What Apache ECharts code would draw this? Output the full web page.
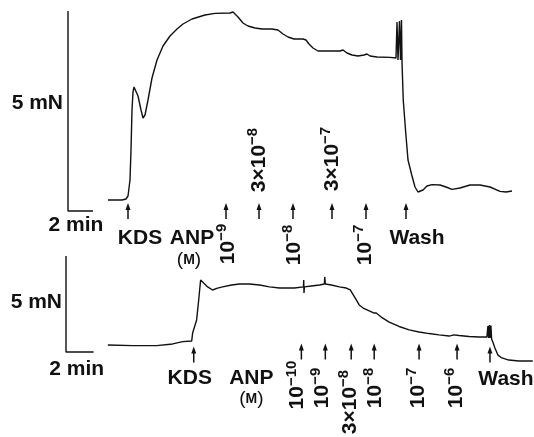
<!DOCTYPE html>
<html><head><meta charset="utf-8">
<script src="https://cdn.jsdelivr.net/npm/echarts@6/dist/echarts.min.js"></script>
<style>html,body{margin:0;padding:0;background:#fff}#c{width:534px;height:437px}</style>
</head><body><div id="c"></div>
<script>
// ---- Data (time in min, force in mN) ----
const topTime = [3.2,4.32,4.64,4.8,4.96,5.04,5.12,5.2,5.28,5.44,5.6,5.84,6.0,6.16,6.4,6.72,7.12,7.6,8.16,8.72,9.2,9.92,10.96,11.76,12.96,13.2,13.28,13.36,13.6,14.0,14.4,14.96,15.52,16.32,16.8,17.2,17.6,18.08,18.8,19.04,19.28,19.6,20.0,20.96,21.76,22.0,22.32,22.72,23.2,23.68,23.92,24.16,24.72,25.76,26.24,26.32,26.4,26.52,26.6,26.68,26.72,26.82,27.02,27.2,27.5,27.76,28.0,28.16,28.4,28.72,29.12,29.76,30.24,30.72,31.36,32.16,32.96,33.76,34.56,35.04,35.52];
const topForce = [0.275,0.275,0.3,0.375,0.775,1.525,2.525,2.975,3.1,3.075,2.875,2.525,2.325,2.4,2.775,3.325,3.775,4.125,4.375,4.55,4.675,4.8,4.9,4.94,4.95,4.975,5.025,4.95,4.85,4.7,4.625,4.575,4.55,4.55,4.525,4.425,4.35,4.3,4.3,4.275,4.175,4.075,4.0,4.0,4.0,4.025,3.95,3.9,3.875,3.9,3.925,3.875,3.85,3.84,3.825,4.725,3.775,4.75,3.775,4.775,3.725,2.775,1.95,1.275,0.9,0.6,0.475,0.45,0.525,0.625,0.66,0.65,0.6,0.54,0.575,0.65,0.65,0.6,0.49,0.475,0.5];
const botTime = [3.04,4.86,6.59,7.75,8.48,9.13,9.2,9.49,9.64,9.78,10.0,10.29,10.65,11.01,11.38,12.03,12.61,13.33,14.06,14.78,15.51,16.59,17.25,17.27,17.29,17.32,17.83,18.41,18.77,18.8,18.84,19.28,19.86,20.36,20.65,20.87,21.09,21.3,21.59,22.03,22.39,22.54,22.9,23.48,24.2,24.93,25.65,26.38,27.1,27.83,28.19,28.55,29.28,30.0,30.58,30.65,30.7,30.76,30.81,30.87,30.92,31.01,31.16,31.38,31.67,32.17,32.9,33.91];
const botForce = [0.365,0.33,0.33,0.42,0.54,0.57,0.99,1.67,2.71,3.75,3.59,3.39,3.23,3.33,3.39,3.49,3.54,3.54,3.49,3.39,3.33,3.33,3.39,3.75,3.07,3.39,3.44,3.49,3.54,3.91,3.54,3.49,3.39,3.33,3.23,2.97,2.71,2.45,2.29,2.14,2.03,2.03,1.82,1.56,1.33,1.15,1.04,0.96,0.89,0.83,0.89,0.86,0.81,0.78,0.78,1.35,0.73,1.41,0.73,1.38,0.68,0.52,0.21,-0.16,-0.31,-0.42,-0.47,-0.47];

const topEventTimes = [4.8,12.64,15.28,18.0,21.12,23.84,27.04];
const topEventLabels = ['KDS','10^-9','3×10^-8','10^-8','3×10^-7','10^-7','Wash'];
const botEventTimes = [9.28,17.1,18.84,20.72,22.39,25.65,28.41,30.8];
const botEventLabels = ['KDS','10^-10','10^-9','3×10^-8','10^-8','10^-7','10^-6','Wash'];

const scaleForce = 5;      // mN
const scaleTime = 2;       // min
const scaleForceLabel = '5 mN';
const scaleTimeLabel = '2 min';
const anpLabel = 'ANP';
const unitLabel = 'M';

// ---- Layout / style (pixel offsets) ----
const topArrowDy = [0,0,0,0,0,0,0];
const topLabelLayout = [[12,27,0],[2,33,1],[0,-51,1],[1,34,1],[0,-52,1],[-1,34,1],[11,27,0]];
const botArrowDy = [2.5,-0.5,-0.5,-0.5,-0.5,-0.5,-0.5,2.5];
const botLabelLayout = [[-4,26,0],[-4,33,1],[-3,36,1],[-1,50,1],[1,36,1],[-1,36,1],[-1,36,1],[16,27,0]];
const topAnp = {eventIndex:1, anp:[-34,27], unit:[-37,49]};
const botAnp = {eventIndex:1, anp:[-50,26], unit:[-50,47]};
const topScaleLayout = {force:[-5,-8], time:[-4.5,14]};
const botScaleLayout = {force:[-4,-2], time:[-3,17]};

const FONT = "'Liberation Sans', Arial, Helvetica, sans-serif";
const INK = '#111';
const W = 'bold';
const rich = {
  b:{fontSize:21, fontWeight:W, lineHeight:27, fontFamily:FONT, fill:INK},
  s:{fontSize:15, fontWeight:W, verticalAlign:'top', fontFamily:FONT, fill:INK},
  p:{fontSize:19, fontFamily:FONT, fill:INK},
  m:{fontSize:14, fontWeight:W, fontFamily:FONT, fill:INK}
};
function fmt(s){
  if (s.indexOf('^') < 0) return '{b|' + s + '}';
  const parts = s.split('^');
  return '{b|' + parts[0] + '}{s|' + parts[1].replace('-', '\u2212') + '}';
}
function arrowPts(cx, cy){
  return [[cx,cy-8],[cx+2.5,cy-1],[cx+0.75,cy-1],[cx+0.75,cy+8],[cx-0.75,cy+8],[cx-0.75,cy-1],[cx-2.5,cy-1]];
}
function textEl(x, y, rot, text, align){
  return {type:'text', x:x, y:y, rotation: rot ? Math.PI/2 : 0,
    style:{text:text, rich:rich, align:align||'center', verticalAlign:'middle', fill:INK, font:'bold 21px ' + FONT}};
}
function eventSeries(idx, times, labels, arrowDy, layout, anp){
  return {
    type:'custom', coordinateSystem:'cartesian2d', xAxisIndex:idx, yAxisIndex:idx,
    data: times.map((t,i)=>[t, 0, i]),
    encode:{x:0, y:1},
    renderItem(params, api){
      const i = api.value(2);
      const p = api.coord([api.value(0), 0]);
      const L = layout[i];
      const children = [
        {type:'polygon', shape:{points:arrowPts(p[0], p[1] + arrowDy[i])}, style:{fill:INK}},
        textEl(p[0] + L[0], p[1] + L[1], L[2], fmt(labels[i]))
      ];
      if (i === anp.eventIndex){
        children.push(textEl(p[0] + anp.anp[0], p[1] + anp.anp[1], 0, '{b|' + anpLabel + '}'));
        children.push(textEl(p[0] + anp.unit[0], p[1] + anp.unit[1], 0, '{p|(}{m|' + unitLabel + '}{p|)}'));
      }
      return {type:'group', children:children};
    }
  };
}
function scaleSeries(idx){
  return {type:'line', xAxisIndex:idx, yAxisIndex:idx, showSymbol:false, clip:false, silent:true,
    lineStyle:{color:INK, width:1.4},
    data:[[0, scaleForce],[0,0],[scaleTime,0]]};
}
function scaleLabelSeries(idx, lay){
  return {type:'custom', coordinateSystem:'cartesian2d', xAxisIndex:idx, yAxisIndex:idx,
    data:[[0, scaleForce/2, 0],[scaleTime/2, 0, 1]], encode:{x:0,y:1},
    renderItem(params, api){
      const k = api.value(2);
      const p = api.coord([api.value(0), api.value(1)]);
      if (k === 0) return textEl(p[0] + lay.force[0], p[1] + lay.force[1], 0, '{b|' + scaleForceLabel + '}', 'right');
      return textEl(p[0] + lay.time[0], p[1] + lay.time[1], 0, '{b|' + scaleTimeLabel + '}');
    }};
}
function traceSeries(idx, t, f){
  return {type:'line', xAxisIndex:idx, yAxisIndex:idx, showSymbol:false, clip:false, silent:true,
    lineStyle:{color:INK, width:1.4}, data:t.map((x,i)=>[x, f[i]])};
}

const chart = echarts.init(document.getElementById('c'), null, {renderer:'canvas'});
const axisOff = {show:false};
chart.setOption({
  animation:false,
  backgroundColor:'#fff',
  grid:[
    {left:68, top:1, width:37*12.5, height:210},
    {left:66, top:256, width:34*13.8, height:96}
  ],
  xAxis:[
    Object.assign({type:'value', gridIndex:0, min:0, max:37}, axisOff),
    Object.assign({type:'value', gridIndex:1, min:0, max:34}, axisOff)
  ],
  yAxis:[
    Object.assign({type:'value', gridIndex:0, min:0, max:5.25}, axisOff),
    Object.assign({type:'value', gridIndex:1, min:0, max:5}, axisOff)
  ],
  series:[
    traceSeries(0, topTime, topForce),
    traceSeries(1, botTime, botForce),
    scaleSeries(0), scaleSeries(1),
    scaleLabelSeries(0, topScaleLayout), scaleLabelSeries(1, botScaleLayout),
    eventSeries(0, topEventTimes, topEventLabels, topArrowDy, topLabelLayout, topAnp),
    eventSeries(1, botEventTimes, botEventLabels, botArrowDy, botLabelLayout, botAnp)
  ]
});
</script></body></html>
